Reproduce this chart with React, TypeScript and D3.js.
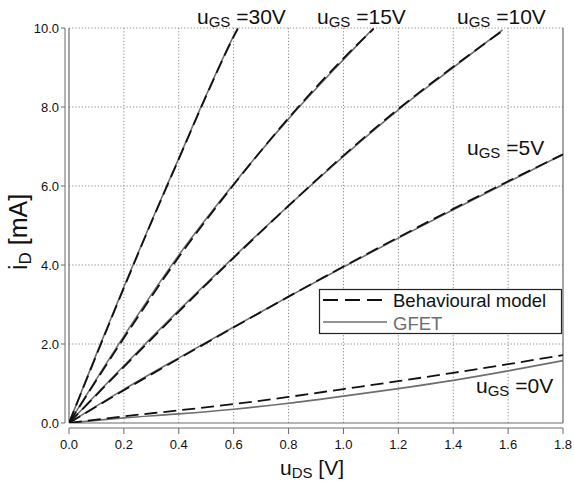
import React from "react";
import * as d3 from "d3";

// ---- Data ----
const xTicks = [0.0, 0.2, 0.4, 0.6, 0.8, 1.0, 1.2, 1.4, 1.6, 1.8];
const yTicks = [0.0, 2.0, 4.0, 6.0, 8.0, 10.0];

const uds30 = [0, 0.1, 0.2, 0.3, 0.4, 0.5, 0.6, 0.615];
const gfet30 = [0, 1.75, 3.45, 5.1, 6.7, 8.3, 9.8, 10.0];
const model30 = [0, 1.72, 3.42, 5.08, 6.68, 8.28, 9.78, 9.98];

const uds15 = [0, 0.2, 0.4, 0.6, 0.8, 1.0, 1.11];
const gfet15 = [0, 2.2, 4.25, 6.05, 7.7, 9.2, 10.0];
const model15 = [0, 2.15, 4.2, 6.03, 7.72, 9.23, 9.98];

const uds10 = [0, 0.2, 0.4, 0.6, 0.8, 1.0, 1.2, 1.4, 1.58];
const gfet10 = [0, 1.45, 2.85, 4.2, 5.5, 6.75, 7.93, 9.0, 9.95];
const model10 = [0, 1.42, 2.82, 4.18, 5.5, 6.77, 7.95, 9.02, 9.93];

const uds5 = [0, 0.2, 0.4, 0.6, 0.8, 1.0, 1.2, 1.4, 1.6, 1.8];
const gfet5 = [0, 0.85, 1.65, 2.43, 3.2, 3.95, 4.68, 5.4, 6.1, 6.8];
const model5 = [0, 0.83, 1.63, 2.42, 3.2, 3.96, 4.7, 5.42, 6.12, 6.8];

const uds0 = [0, 0.2, 0.4, 0.6, 0.8, 1.0, 1.2, 1.4, 1.6, 1.8];
const gfet0 = [0, 0.13, 0.23, 0.35, 0.5, 0.68, 0.87, 1.08, 1.32, 1.58];
const model0 = [0, 0.17, 0.32, 0.48, 0.66, 0.86, 1.06, 1.27, 1.49, 1.72];

const curves = [
  { x: uds30, gfet: gfet30, model: model30 },
  { x: uds15, gfet: gfet15, model: model15 },
  { x: uds10, gfet: gfet10, model: model10 },
  { x: uds5, gfet: gfet5, model: model5 },
  { x: uds0, gfet: gfet0, model: model0 },
];

const gateLabels = [
  { v: "=30V", x: 197, y: 24 },
  { v: "=15V", x: 317, y: 24 },
  { v: "=10V", x: 457, y: 24 },
  { v: "=5V", x: 467, y: 155 },
  { v: "=0V", x: 476, y: 393 },
];

const FONT = "'Liberation Sans', Arial, Helvetica, sans-serif";

export default function App() {
  const W = 574;
  const H = 481;
  const L = 69, R = 563, T = 28, B = 423;
  const x = d3.scaleLinear().domain([0, 1.8]).range([L, R]);
  const y = d3.scaleLinear().domain([0, 10]).range([B, T]);
  const line = (xs: number[], ys: number[]) =>
    d3.line<number>()
      .x((_, i) => x(xs[i]))
      .y((d) => y(d))
      .curve(d3.curveMonotoneX)(ys) || "";

  const fmt = d3.format(".1f");
  const gridColor = "#8a8a8a";
  const frameColor = "#6a6a6a";
  const gfetColor = "#6e6e6e";

  return (
    <svg
      width={W}
      height={H}
      style={{ position: "fixed", left: 0, top: 0, background: "#fff" }}
      fontFamily={FONT}
    >
      <rect x={0} y={0} width={W} height={H} fill="#fff" />
      <defs>
        <clipPath id="plotclip">
          <rect x={L} y={T - 4} width={R - L} height={B - T + 4} />
        </clipPath>
      </defs>

      {/* grid */}
      {xTicks.slice(1, -1).map((t) => (
        <line key={"gx" + t} x1={x(t)} x2={x(t)} y1={T} y2={B}
          stroke={gridColor} strokeWidth={1} strokeDasharray="1.2,2" />
      ))}
      {yTicks.slice(1).map((t) => (
        <line key={"gy" + t} x1={L} x2={R} y1={y(t)} y2={y(t)}
          stroke={gridColor} strokeWidth={1} strokeDasharray="1.2,2" />
      ))}

      {/* frame */}
      <line x1={L} x2={L} y1={T} y2={B} stroke={frameColor} strokeWidth={1.2} />
      <line x1={R} x2={R} y1={T} y2={B} stroke={frameColor} strokeWidth={1.2} />
      <line x1={L} x2={R} y1={B} y2={B} stroke={frameColor} strokeWidth={1.2} />

      {/* offset y axis */}
      <line x1={L - 4} x2={L - 4} y1={T} y2={B} stroke={frameColor} strokeWidth={1} />
      {yTicks.map((t) => (
        <g key={"yt" + t}>
          <line x1={L - 8} x2={L - 4} y1={y(t)} y2={y(t)} stroke={frameColor} strokeWidth={1} />
          <text x={L - 10} y={y(t)} dy="0.35em" textAnchor="end" fontSize={13} fill="#111">
            {fmt(t)}
          </text>
        </g>
      ))}

      {/* offset x axis */}
      <line x1={L} x2={R} y1={B + 5} y2={B + 5} stroke={frameColor} strokeWidth={1} />
      {xTicks.map((t) => (
        <g key={"xt" + t}>
          <line x1={x(t)} x2={x(t)} y1={B + 5} y2={B + 11} stroke={frameColor} strokeWidth={1} />
          <text x={x(t)} y={449} textAnchor="middle" fontSize={13} fill="#111">
            {fmt(t)}
          </text>
        </g>
      ))}

      {/* curves */}
      <g clipPath="url(#plotclip)" fill="none">
        {curves.map((c, i) => (
          <path key={"g" + i} d={line(c.x, c.gfet)} stroke={gfetColor} strokeWidth={1.6} />
        ))}
        {curves.map((c, i) => (
          <path key={"m" + i} d={line(c.x, c.model)} stroke="#111" strokeWidth={1.8}
            strokeDasharray="13,6" />
        ))}
      </g>

      {/* gate labels */}
      {gateLabels.map((g) => (
        <text key={g.v} x={g.x} y={g.y} fontSize={21} fill="#111">
          u<tspan fontSize={15} dy={3}>GS</tspan>
          <tspan dy={-3}>{" " + g.v}</tspan>
        </text>
      ))}

      {/* legend */}
      <rect x={319.5} y={289.5} width={242} height={44} fill="#fff" stroke="#222" strokeWidth={1.2} />
      <line x1={323} x2={387} y1={300} y2={300} stroke="#111" strokeWidth={1.8} strokeDasharray="15,7" />
      <text x={393} y={307} fontSize={18.5} fill="#111">Behavioural model</text>
      <line x1={323} x2={387} y1={322} y2={322} stroke={gfetColor} strokeWidth={1.6} />
      <text x={393} y={329.5} fontSize={18.5} fill={gfetColor}>GFET</text>

      {/* axis titles */}
      <text x={280} y={475} fontSize={21} fill="#111">
        u<tspan fontSize={15} dy={3}>DS</tspan>
        <tspan dy={-3}> [V]</tspan>
      </text>
      <text transform="translate(27,232) rotate(-90)" textAnchor="middle" fontSize={25} fill="#111">
        i<tspan fontSize={17} dy={4}>D</tspan>
        <tspan dy={-4}> [mA]</tspan>
      </text>
    </svg>
  );
}
